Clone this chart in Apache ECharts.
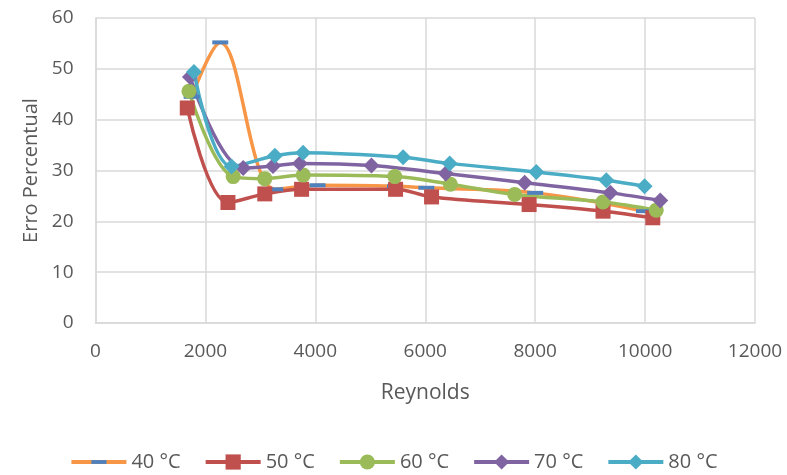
<!DOCTYPE html>
<html>
<head>
<meta charset="utf-8">
<script src="https://cdn.jsdelivr.net/npm/echarts@6/dist/echarts.min.js"></script>
<style>
  html, body { margin: 0; padding: 0; background: #fff; }
  #chart { width: 787px; height: 475px; }
</style>
</head>
<body>
<div id="chart"></div>
<script>
// Reynolds number (x) and percentage error (y) for each temperature
const re40 = [1750, 2270, 3270, 4040, 5450, 6020, 8000, 9980];
const err40 = [44.5, 55.2, 26.3, 27.1, 26.9, 26.6, 25.6, 22.0];

const re50 = [1670, 2410, 3080, 3750, 5460, 6115, 7890, 9235, 10140];
const err50 = [42.3, 23.7, 25.4, 26.3, 26.3, 24.8, 23.3, 22.0, 20.7];

const re60 = [1700, 2505, 3080, 3780, 5445, 6458, 7627, 9233, 10203];
const err60 = [45.6, 28.8, 28.4, 29.1, 28.8, 27.3, 25.3, 23.8, 22.2];

const re70 = [1718, 2687, 3230, 3718, 5021, 6373, 7809, 9367, 10276];
const err70 = [48.4, 30.5, 30.9, 31.4, 31.0, 29.4, 27.6, 25.6, 24.1];

const re80 = [1791, 2476, 3264, 3778, 5597, 6445, 8021, 9294, 9991];
const err80 = [49.4, 30.8, 32.9, 33.5, 32.6, 31.4, 29.7, 28.1, 26.9];

const xTicks = { min: 0, max: 12000, step: 2000 };
const yTicks = { min: 0, max: 60, step: 10 };

const pairs = (xs, ys) => xs.map((x, i) => [x, ys[i]]);

const FONT = 'Open Sans';
const TXT = '#595959';
const GRID = '#d9d9d9';

// short horizontal bar marker; the two lone move-to points keep the box square
const DASH = 'path://M0,0M0,6h16v4h-16zM16,16';

function lineSeries(name, xs, ys, color, symbol, size, symColor) {
  return {
    name: name,
    type: 'line',
    data: pairs(xs, ys),
    smooth: 0.35,
    symbol: symbol,
    symbolSize: size,
    showAllSymbol: true,
    lineStyle: { color: color, width: 3.5 },
    itemStyle: { color: symColor || color },
    emphasis: { disabled: true }
  };
}

const chart = echarts.init(document.getElementById('chart'), null, { renderer: 'canvas' });
chart.setOption({
  animation: false,
  backgroundColor: '#ffffff',
  grid: { left: 95.5, right: 32, top: 18, bottom: 152, containLabel: false },
  xAxis: {
    type: 'value',
    min: xTicks.min, max: xTicks.max, interval: xTicks.step,
    name: 'Reynolds',
    nameLocation: 'middle',
    nameGap: 60,
    nameTextStyle: { fontFamily: FONT, fontSize: 21, color: TXT },
    axisLine: { show: true, lineStyle: { color: GRID, width: 1.5 } },
    axisTick: { show: false },
    axisLabel: { fontFamily: FONT, fontSize: 19, color: TXT, margin: 19, formatter: v => String(v) },
    splitLine: { show: true, lineStyle: { color: GRID, width: 1.5 } }
  },
  yAxis: {
    type: 'value',
    min: yTicks.min, max: yTicks.max, interval: yTicks.step,
    name: 'Erro Percentual',
    nameLocation: 'middle',
    nameGap: 54,
    nameRotate: 90,
    nameTextStyle: { fontFamily: FONT, fontSize: 20, color: TXT },
    axisLine: { show: true, lineStyle: { color: GRID, width: 1.5 } },
    axisTick: { show: false },
    axisLabel: { fontFamily: FONT, fontSize: 19, color: TXT, margin: 22, formatter: v => String(v) },
    splitLine: { show: true, lineStyle: { color: GRID, width: 1.5 } }
  },
  legend: {
    bottom: -2,
    left: 'center',
    itemWidth: 55,
    itemHeight: 19,
    itemGap: 23,
    lineStyle: { width: 4 },
    textStyle: { fontFamily: FONT, fontSize: 20, color: TXT },
    data: ['40 °C', '50 °C', '60 °C', '70 °C', '80 °C']
  },
  series: [
    lineSeries('40 °C', re40, err40, '#F79646', DASH, 16, '#4F81BD'),
    lineSeries('50 °C', re50, err50, '#C0504D', 'rect', 15),
    lineSeries('60 °C', re60, err60, '#9BBB59', 'circle', 15),
    lineSeries('70 °C', re70, err70, '#8064A2', 'diamond', 16),
    lineSeries('80 °C', re80, err80, '#4BACC6', 'diamond', 16)
  ]
});
</script>
</body>
</html>
